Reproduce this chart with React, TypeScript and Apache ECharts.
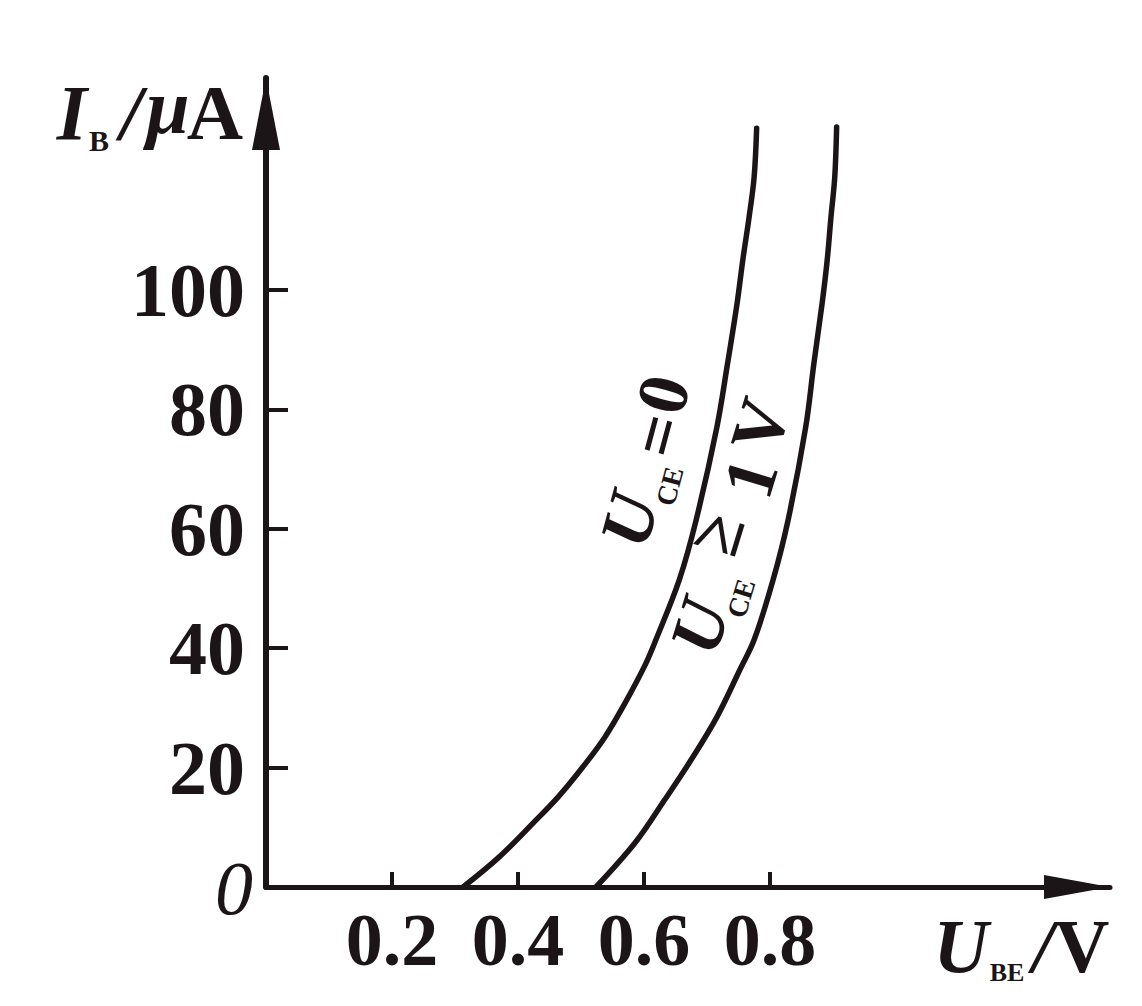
import React, { useEffect, useRef } from 'react';
import * as echarts from 'echarts';

const INK = '#1b1517';
const FONT = "'Liberation Serif', 'Times New Roman', serif";

// axis ticks
const X_TICKS = [0.2, 0.4, 0.6, 0.8];
const Y_TICKS = [20, 40, 60, 80, 100];
const X_MAX = 1.34;
const Y_MAX = 135.5;

// U_CE = 0 curve (U_BE in V, I_B in μA)
const CE0_V = [0.313, 0.370, 0.424, 0.464, 0.503, 0.538, 0.570, 0.602, 0.619, 0.656, 0.683, 0.716, 0.733, 0.748, 0.757, 0.767, 0.775, 0.779];
const CE0_I = [0, 5.0, 10.7, 15.1, 20.1, 25.1, 30.8, 37.2, 41.4, 51.4, 61.5, 77.1, 87.8, 97.8, 105.0, 112.2, 118.9, 127.1];

// U_CE >= 1V curve
const CE1_V = [0.524, 0.586, 0.633, 0.675, 0.716, 0.752, 0.775, 0.805, 0.829, 0.857, 0.870, 0.883, 0.891, 0.897, 0.903, 0.906];
const CE1_I = [0, 7.4, 14.6, 21.3, 28.5, 36.3, 41.4, 51.4, 61.5, 77.1, 87.8, 97.8, 105.0, 112.2, 118.9, 127.3];

const zip = (a: number[], b: number[]) => a.map((v, i) => [v, b[i]]);

const txt = (text: string, x: number, y: number, font: string, align = 'center') => ({
  type: 'text',
  x,
  y,
  style: {
    text,
    font,
    fill: INK,
    align,
    verticalAlign: 'middle',
    textAlign: align,
    textVerticalAlign: 'middle',
  },
});

const BIG = (style: string, size = 78) => `${style} ${size}px ${FONT}`;

const option: any = {
  animation: false,
  backgroundColor: '#ffffff',
  grid: { left: 266, right: 32, top: 78, bottom: 119, containLabel: false, outerBoundsMode: 'none' },
  xAxis: {
    type: 'value',
    min: 0,
    max: X_MAX,
    axisLine: {
      show: true,
      lineStyle: { color: INK, width: 5 },
      symbol: ['none', 'triangle'],
      symbolSize: [24, 66],
      symbolOffset: [0, -33],
    },
    axisTick: { show: true, inside: true, length: 15, lineStyle: { color: INK, width: 4 }, customValues: X_TICKS },
    axisLabel: {
      customValues: X_TICKS,
      formatter: (v: number) => v.toFixed(1),
      fontSize: 74,
      fontFamily: FONT,
      fontWeight: 'bold',
      color: INK,
      margin: 16,
    },
    splitLine: { show: false },
  },
  yAxis: {
    type: 'value',
    min: 0,
    max: Y_MAX,
    axisLine: {
      show: true,
      lineStyle: { color: INK, width: 6 },
      symbol: ['none', 'triangle'],
      symbolSize: [28, 72],
      symbolOffset: [0, -36],
    },
    axisTick: { show: true, inside: true, length: 22, lineStyle: { color: INK, width: 4 }, customValues: Y_TICKS },
    axisLabel: {
      customValues: Y_TICKS,
      fontSize: 76,
      fontFamily: FONT,
      fontWeight: 'bold',
      color: INK,
      margin: 21,
    },
    splitLine: { show: false },
  },
  series: [
    {
      name: 'U_CE=0',
      type: 'line',
      data: zip(CE0_V, CE0_I),
      smooth: 0.35,
      symbol: 'none',
      lineStyle: { color: INK, width: 5.5, cap: 'round' },
    },
    {
      name: 'U_CE>=1V',
      type: 'line',
      data: zip(CE1_V, CE1_I),
      smooth: 0.35,
      symbol: 'none',
      lineStyle: { color: INK, width: 5.5, cap: 'round' },
    },
  ],
  graphic: {
    elements: [
      // y axis name I_B / μA
      txt('I', 72, 112, BIG('italic bold')),
      txt('B', 99, 140, `bold 30px ${FONT}`),
      txt('/', 131, 112, BIG('italic bold')),
      txt('μ', 168, 106, BIG('italic bold')),
      txt('A', 215, 112, BIG('bold')),
      // origin
      txt('0', 234, 888, `italic 76px ${FONT}`),
      // x axis name U_BE / V
      txt('U', 961, 946, BIG('italic bold', 76)),
      txt('BE', 1007, 972, `bold 26px ${FONT}`),
      txt('/', 1043, 946, BIG('italic bold', 76)),
      txt('V', 1082, 946, BIG('bold', 76)),
      // curve label U_CE=0
      {
        type: 'group',
        x: 645,
        y: 462,
        rotation: 1.309,
        children: [
          txt('U', -60, 0, `italic bold 72px ${FONT}`),
          txt('CE', -17, 30, `bold 28px ${FONT}`),
          txt('=', 29, 6, `bold 72px ${FONT}`),
          txt('0', 70, 0, `bold 72px ${FONT}`),
        ],
      },
      // curve label U_CE>=1V
      {
        type: 'group',
        x: 730,
        y: 525,
        rotation: 1.274,
        children: [
          txt('U', -106, 1, `italic bold 72px ${FONT}`),
          txt('CE', -67, 32, `bold 28px ${FONT}`),
          txt('≥', -12, -10, `bold 72px ${FONT}`),
          txt('1', 51, 6, `bold 72px ${FONT}`),
          txt('V', 104, 0, `bold 72px ${FONT}`),
        ],
      },
    ],
  },
};

export default function App() {
  const ref = useRef<HTMLDivElement>(null);
  useEffect(() => {
    const chart = echarts.init(ref.current as HTMLDivElement, null, { renderer: 'svg' });
    chart.setOption(option);
    return () => chart.dispose();
  }, []);
  return (
    <div
      ref={ref}
      style={{ position: 'fixed', left: 0, top: 0, width: 1142, height: 1006, background: '#ffffff' }}
    />
  );
}
